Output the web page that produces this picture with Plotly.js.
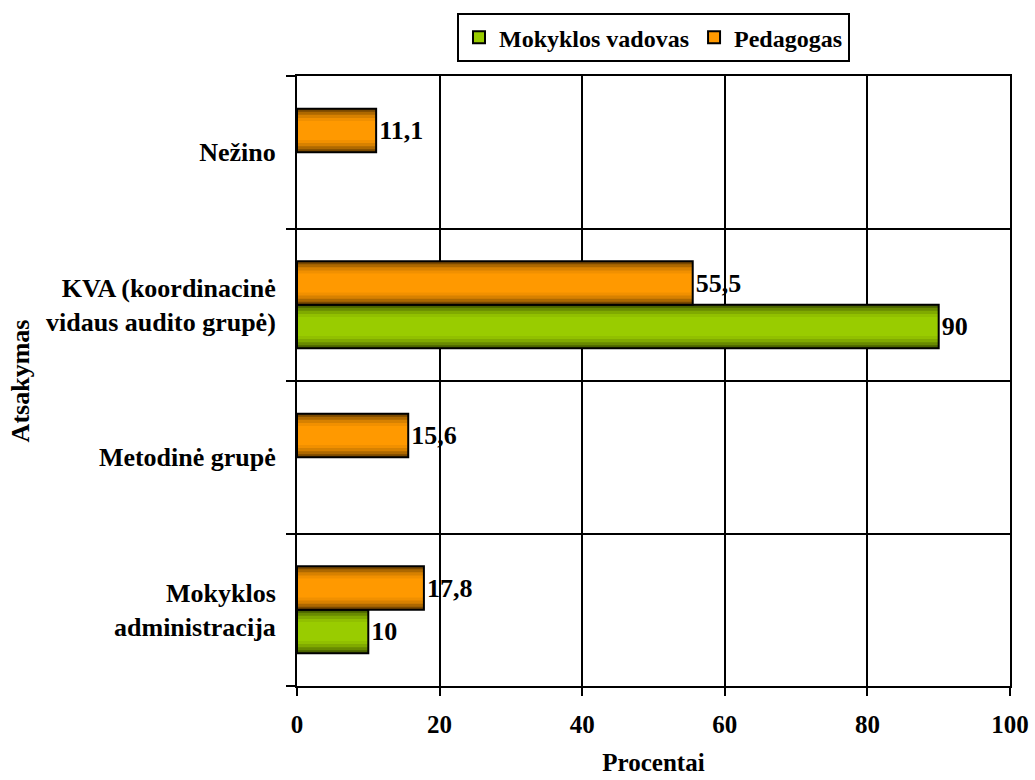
<!DOCTYPE html>
<html>
<head>
<meta charset="utf-8">
<script src="https://cdn.plot.ly/plotly-3.0.1.min.js"></script>
<style>html,body{margin:0;padding:0;background:#fff;}#chart{width:1035px;height:780px;}</style>
</head>
<body>
<div id="chart"></div>
<script>
const categories = ["Mokyklos<br>administracija", "Metodinė grupė", "KVA (koordinacinė<br>vidaus audito grupė)", "Nežino"];
const seriesNames = ["Mokyklos vadovas", "Pedagogas"];
const vadovasValues = [10, null, 90, null];
const pedagogasValues = [17.8, 15.6, 55.5, 11.1];
const xTicks = [0, 20, 40, 60, 80, 100];

const FAM = "Liberation Serif, Times New Roman, serif";
const fmt = v => (v === null ? "" : String(v).replace(".", ","));
const f = (size) => ({family: FAM, size: size, color: "#000", weight: "bold"});

// gradient shades (edge -> centre) per series
const shades = {
  vadovas: ["#4a6200", "#688a00", "#80aa00", "#91c000", "#99cc00"],
  pedagogas: ["#7a4900", "#ad6800", "#d78100", "#f19000", "#ff9900"]
};
const layerFrac = [1.0, 0.86, 0.72, 0.58, 0.44];
const BW = 0.285; // bar thickness in category units

function seriesTraces(name, values, colors, offset, legendColor) {
  const out = [];
  const centre = offset + BW / 2;
  layerFrac.forEach((fr, i) => {
    const w = BW * fr;
    out.push({
      type: "bar", orientation: "h", y: categories, x: values,
      width: w, offset: centre - w / 2,
      marker: {color: colors[i], line: {width: 0}},
      showlegend: false, hoverinfo: "skip", legendgroup: name
    });
  });
  out.push({
    type: "bar", orientation: "h", y: categories, x: values,
    width: BW, offset: offset,
    marker: {color: "rgba(0,0,0,0)", line: {color: "#000", width: 2}},
    text: values.map(fmt), textposition: "outside", cliponaxis: false,
    textfont: f(26), showlegend: false, legendgroup: name
  });
  out.push({
    type: "bar", orientation: "h", name: name, y: categories, x: values.map(() => null),
    marker: {color: legendColor, line: {color: "#000", width: 2}},
    showlegend: true, legendgroup: name
  });
  return out;
}

const traces = [
  ...seriesTraces(seriesNames[0], vadovasValues, shades.vadovas, -BW, "#99cc00"),
  ...seriesTraces(seriesNames[1], pedagogasValues, shades.pedagogas, 0, "#ff9900")
];

const layout = {
  width: 1035, height: 780,
  margin: {l: 297, r: 25, t: 76, b: 94},
  paper_bgcolor: "#fff", plot_bgcolor: "#fff",
  font: f(25),
  barmode: "overlay",
  showlegend: true,
  legend: {
    orientation: "h", x: 0.5, xanchor: "center", y: 1.103, yanchor: "top",
    bordercolor: "#000", borderwidth: 2, bgcolor: "#fff",
    font: f(24), traceorder: "normal", itemwidth: 30
  },
  xaxis: {
    range: [0, 100], tickvals: xTicks, ticktext: xTicks.map(String),
    showgrid: true, gridcolor: "#000", gridwidth: 2,
    showline: true, linecolor: "#000", linewidth: 2, mirror: true,
    ticks: "outside", ticklen: 8, tickwidth: 2, tickcolor: "#000",
    ticklabelstandoff: 7,
    zeroline: false, fixedrange: true,
    tickfont: f(25),
    title: {text: "Procentai", standoff: 16, font: f(25)}
  },
  yaxis: {
    type: "category", tickson: "boundaries", range: [-0.5, 3.5],
    showgrid: true, gridcolor: "#000", gridwidth: 2,
    showline: true, linecolor: "#000", linewidth: 2, mirror: true,
    ticks: "outside", ticklen: 9, tickwidth: 2, tickcolor: "#000",
    ticklabelstandoff: 14,
    tickfont: f(26),
    title: {text: "Atsakymas", standoff: 9, font: f(26)}
  }
};

Plotly.newPlot("chart", traces, layout, {displayModeBar: false, staticPlot: true});
</script>
</body>
</html>
